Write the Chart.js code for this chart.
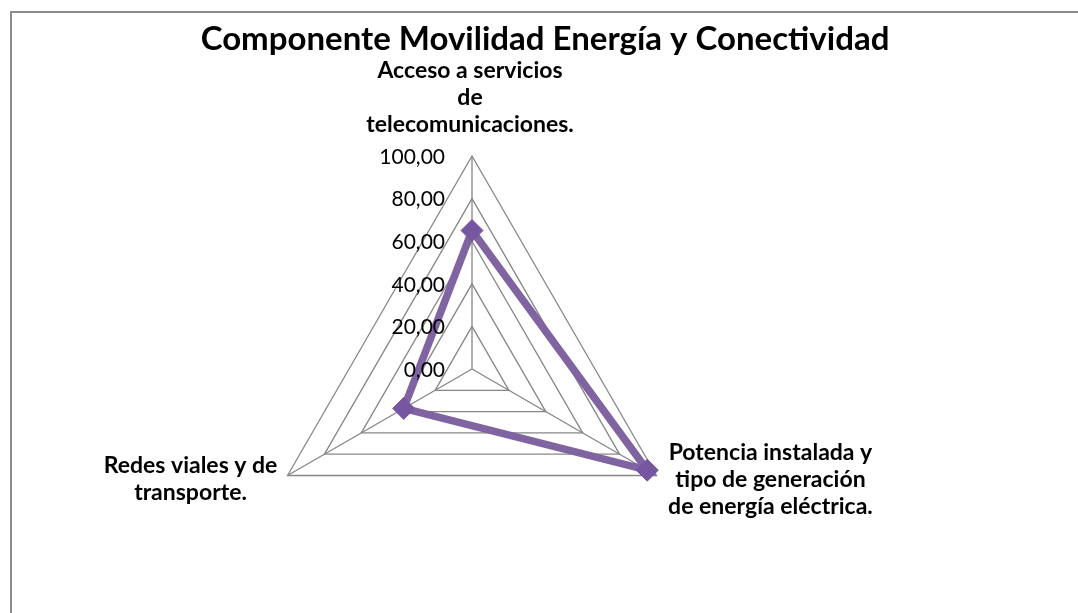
<!DOCTYPE html>
<html>
<head>
<meta charset="utf-8">
<script src="https://cdn.jsdelivr.net/npm/chart.js@4.4.1/dist/chart.umd.min.js"></script>
<style>
  html, body { margin: 0; padding: 0; background: #fff; }
  #wrap { width: 1078px; height: 613px; position: relative; }
</style>
</head>
<body>
<div id="wrap"><canvas id="radarChart"></canvas></div>
<script>
const chartTitle = 'Componente Movilidad Energía y Conectividad';
const categories = [
    ['Acceso a servicios', 'de', 'telecomunicaciones.'],
    ['Potencia instalada y', 'tipo de generación', 'de energía eléctrica.'],
    ['Redes viales y de', 'transporte.']
];
const seriesValues = [65, 95, 37];
const tickValues = [0, 20, 40, 60, 80, 100];

// where each category label sits, relative to its axis end
const labelOffsets = [
    { dx: -2, dy: -85 },
    { dx: 114, dy: -23 },
    { dx: -97, dy: -10 }
];

const fmt = v => v.toFixed(2).replace('.', ',');

const extrasPlugin = {
    id: 'extras',
    beforeDraw(chart) {
        const ctx = chart.ctx;
        ctx.save();
        ctx.fillStyle = '#fff';
        ctx.fillRect(0, 0, chart.width, chart.height);
        ctx.strokeStyle = '#8c8c8c';
        ctx.lineWidth = 2;
        ctx.beginPath();
        ctx.moveTo(11, chart.height);
        ctx.lineTo(11, 12);
        ctx.lineTo(chart.width, 12);
        ctx.stroke();
        ctx.restore();
    },
    afterDatasetsDraw(chart) {
        const ctx = chart.ctx;
        const scale = chart.scales.r;
        ctx.save();
        ctx.fillStyle = '#000';

        // title
        ctx.font = 'bold 33px Lato';
        ctx.textAlign = 'center';
        ctx.textBaseline = 'middle';
        ctx.fillText(chartTitle, 545, 39);

        // tick labels, left of the vertical axis
        ctx.font = '21px Lato';
        ctx.textAlign = 'right';
        tickValues.forEach(v => {
            const y = scale.yCenter - scale.getDistanceFromCenterForValue(v);
            ctx.fillText(fmt(v), scale.xCenter - 27, y + 1);
        });

        // category labels
        ctx.font = 'bold 23px Lato';
        ctx.textAlign = 'center';
        categories.forEach((lines, i) => {
            const p = scale.getPointPosition(i, scale.drawingArea);
            const off = labelOffsets[i];
            lines.forEach((line, j) => {
                ctx.fillText(line, p.x + off.dx, p.y + off.dy + j * 27);
            });
        });
        ctx.restore();
    }
};

const ctx = document.getElementById('radarChart').getContext('2d');
const radarChart = new Chart(ctx, {
    type: 'radar',
    data: {
        labels: categories,
        datasets: [{
            data: seriesValues,
            borderColor: '#8064A2',
            borderWidth: 7.5,
            backgroundColor: 'rgba(0,0,0,0)',
            fill: false,
            pointStyle: 'rectRot',
            pointRadius: 11,
            pointBackgroundColor: '#7656A0',
            pointBorderColor: '#7656A0',
            pointBorderWidth: 1,
            tension: 0
        }]
    },
    options: {
        responsive: true,
        maintainAspectRatio: false,
        animation: false,
        layout: {
            padding: { left: 259, right: 393, top: 156, bottom: 31 }
        },
        plugins: {
            legend: { display: false },
            title: { display: false },
            tooltip: { enabled: false }
        },
        scales: {
            r: {
                min: 0,
                max: 100,
                ticks: { stepSize: 20, display: false },
                pointLabels: { display: false },
                grid: { color: '#868686', lineWidth: 1.3 },
                angleLines: { color: '#868686', lineWidth: 1.3 }
            }
        }
    },
    plugins: [extrasPlugin]
});
</script>
</body>
</html>
